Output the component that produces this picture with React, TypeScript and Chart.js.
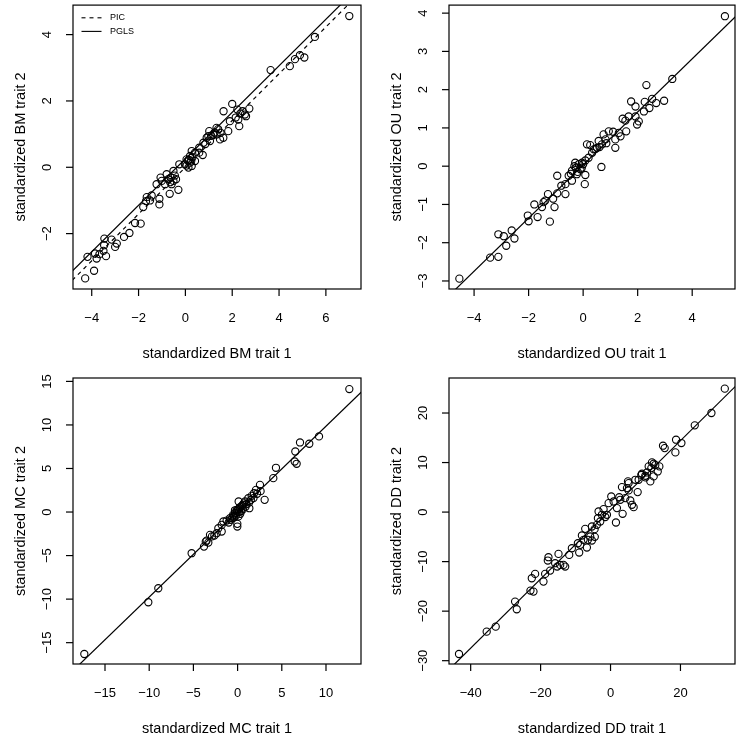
import { useEffect, useRef } from 'react';
import { Chart, registerables } from 'chart.js';

Chart.register(...registerables);

const FONT = '"Liberation Sans", Arial, Helvetica, sans-serif';

// ---- data ----
const bmPoints: [number, number][] = [
  [7.0, 4.56], [5.53, 3.93], [3.64, 2.93], [4.46, 3.05], [4.68, 3.26], [4.89, 3.38], [5.08, 3.31],
  [2.0, 1.91], [1.63, 1.69], [2.22, 1.74], [2.44, 1.69], [2.73, 1.77], [2.54, 1.59], [2.26, 1.44],
  [2.3, 1.24], [1.9, 1.39], [2.59, 1.54], [2.35, 1.62], [1.33, 1.19], [1.5, 1.04], [1.83, 1.09],
  [1.19, 0.99], [1.02, 1.09], [1.48, 0.84], [1.62, 0.89], [0.91, 0.89], [0.77, 0.74], [1.33, 0.99],
  [0.98, 0.94], [1.05, 0.79], [0.59, 0.59], [0.74, 0.37], [0.41, 0.44], [0.2, 0.34], [0.27, 0.49],
  [0.05, 0.24], [0.2, 0.14], [0.13, -0.01], [0.27, 0.04], [-0.02, 0.09], [0.41, 0.19], [0.59, 0.44],
  [-0.26, 0.09], [-0.4, -0.36], [-0.3, -0.68], [-0.51, -0.11], [-0.63, -0.31], [-0.73, -0.36],
  [-0.59, -0.51], [-0.67, -0.8], [-0.87, -0.51], [-1.01, -0.41], [-1.06, -0.31], [-1.23, -0.51],
  [-0.8, -0.21], [-0.51, -0.41], [-1.11, -0.95], [-1.11, -1.12], [-1.44, -0.85], [-1.65, -0.9],
  [-1.51, -1.0], [-1.68, -1.02], [-1.8, -1.2], [-2.15, -1.68], [-1.91, -1.7], [-2.39, -1.98],
  [-2.62, -2.1], [-3.0, -2.4], [-2.93, -2.3], [-3.15, -2.18], [-3.46, -2.15], [-3.47, -2.35],
  [-3.5, -2.52], [-3.39, -2.68], [-3.67, -2.62], [-3.79, -2.75], [-3.86, -2.6], [-4.18, -2.7],
  [-3.9, -3.12], [-4.28, -3.35], [0.1, 0.2], [0.15, 0.22], [0.3, 0.3], [0.05, 0.05], [0.25, 0.2],
  [1.25, 1.05], [1.4, 1.15], [1.1, 0.95], [-0.45, -0.25], [-0.65, -0.45], [2.15, 1.5], [0.85, 0.7],
];

const ouPoints: [number, number][] = [
  [5.2, 3.92], [3.27, 2.28], [2.32, 2.12], [2.97, 1.71], [2.68, 1.65], [2.53, 1.76], [2.43, 1.52],
  [2.23, 1.43], [2.26, 1.68], [1.76, 1.69], [1.92, 1.56], [1.92, 1.3], [2.04, 1.17], [1.98, 1.09],
  [1.67, 1.3], [1.55, 1.19], [1.45, 1.24], [1.58, 0.91], [1.31, 0.87], [1.37, 0.78], [1.18, 0.7],
  [1.18, 0.48], [0.94, 0.91], [0.75, 0.83], [0.82, 0.7], [0.69, 0.57], [0.57, 0.66], [0.51, 0.48],
  [0.39, 0.44], [0.26, 0.55], [0.14, 0.57], [0.33, 0.35], [0.67, -0.02], [0.08, 0.15], [0.2, 0.22],
  [-0.04, 0.09], [-0.16, 0.05], [-0.29, 0.09], [-0.26, -0.04], [-0.41, -0.12], [-0.23, -0.21],
  [-0.53, -0.25], [-0.41, -0.38], [-0.1, -0.08], [0.08, -0.23], [0.06, -0.47], [-0.65, -0.47],
  [-0.95, -0.25], [-0.8, -0.51], [-0.65, -0.73], [-0.95, -0.71], [-1.05, -1.07], [-1.29, -0.73],
  [-1.22, -1.45], [-1.39, -0.9], [-1.51, -1.07], [-1.45, -0.94], [-1.79, -1.0], [-1.67, -1.33],
  [-2.03, -1.29], [-2.0, -1.44], [-2.62, -1.68], [-2.52, -1.89], [-3.11, -1.78], [-2.91, -1.83],
  [-2.82, -2.08], [-3.41, -2.39], [-3.11, -2.37], [-4.54, -2.94], [-0.05, -0.04], [-0.32, 0.0],
  [-0.45, -0.2], [0.45, 0.45], [0.85, 0.6], [-0.2, -0.15], [0.6, 0.5], [1.1, 0.9], [-1.1, -0.85],
  [0.0, 0.05],
];

const mcPoints: [number, number][] = [
  [12.64, 14.12], [9.21, 8.68], [8.11, 7.84], [7.06, 7.99], [6.53, 6.95], [6.46, 5.8], [6.68, 5.54],
  [4.34, 5.08], [4.04, 3.89], [3.06, 1.4], [2.53, 3.12], [2.08, 2.55], [1.86, 2.16], [1.59, 1.86],
  [1.21, 1.59], [1.33, 0.44], [0.84, 1.21], [0.57, 0.82], [0.12, 1.21], [0.27, 0.56], [-0.11, 0.25],
  [-0.29, -0.13], [-0.48, -0.44], [-0.03, -1.36], [-0.03, -1.67], [-0.86, -0.71], [-1.24, -0.98],
  [-1.61, -1.09], [-1.8, -1.48], [-2.18, -1.86], [-2.37, -2.43], [-1.8, -2.24], [-2.63, -2.7],
  [-3.12, -2.62], [-3.5, -3.28], [-3.8, -3.97], [-3.31, -3.51], [-5.2, -4.73], [-8.97, -8.75],
  [-10.1, -10.36], [-17.34, -16.3], [0.2, 0.4], [0.5, 0.7], [-0.1, 0.1], [0.3, -0.2], [0.6, 0.3],
  [-0.5, -0.3], [0.1, -0.5], [0.9, 0.6], [1.0, 0.9], [-0.3, 0.2], [0.4, 0.1], [0.7, 1.0],
  [-0.6, -0.7], [-0.2, -0.4], [0.05, 0.3], [1.3, 1.1], [1.5, 1.4], [1.8, 1.6], [2.2, 2.1],
  [-1.0, -1.2], [-0.8, -0.9], [-0.4, -0.6], [0.15, 0.0], [-3.6, -3.4], [-2.9, -2.8], [2.6, 2.4],
];

const ddPoints: [number, number][] = [
  [32.68, 24.92], [28.86, 20.0], [24.09, 17.51], [18.74, 14.61], [20.27, 13.94], [18.55, 12.05],
  [15.01, 13.4], [15.49, 12.92], [13.96, 9.22], [12.34, 9.76], [10.91, 9.22], [11.86, 10.03],
  [11.67, 8.88], [9.95, 7.33], [9.0, 7.74], [10.43, 8.0], [11.38, 6.19], [12.34, 7.2], [8.04, 6.52],
  [7.09, 6.52], [7.76, 4.03], [4.99, 6.19], [4.7, 4.84], [3.27, 5.04], [5.18, 4.37], [6.13, 1.47],
  [6.61, 1.0], [4.22, 2.82], [5.65, 2.34], [2.79, 2.48], [1.83, 0.8], [3.46, -0.35], [1.55, -2.1],
  [0.21, 3.15], [0.88, 2.14], [-0.55, 1.8], [-1.03, -0.55], [-1.99, 0.59], [-2.46, -0.55],
  [-3.42, 0.12], [-3.61, -1.23], [-2.94, -1.9], [-3.9, -2.57], [-4.56, -3.45], [-5.33, -2.91],
  [-7.24, -3.38], [-8.19, -4.73], [-5.81, -4.93], [-6.47, -5.61], [-5.33, -5.74], [-6.76, -7.16],
  [-7.72, -5.61], [-8.67, -6.62], [-8.96, -8.17], [-11.06, -7.29], [-11.82, -8.64], [-12.97, -11.0],
  [-14.88, -8.44], [-14.4, -10.67], [-15.84, -10.32], [-17.75, -9.11], [-17.94, -9.78],
  [-17.27, -11.81], [-18.7, -12.48], [-19.18, -14.03], [-21.57, -12.48], [-22.52, -13.36],
  [-22.9, -15.85], [-22.04, -16.05], [-27.3, -18.07], [-26.82, -19.62], [-32.84, -23.13],
  [-35.42, -24.14], [-43.34, -28.65], [5.18, 5.85], [8.8, 7.5], [-13.45, -10.66], [-15.26, -11.0],
  [-9.34, -6.28], [12.8, 9.5], [13.5, 8.2], [10.0, 7.0], [-1.5, -1.0], [2.5, 3.0], [-4.5, -5.0],
];

// fitted lines: [intercept, slope]
const bmPic: [number, number] = [0.0, 0.705];
const bmPgls: [number, number] = [0.256, 0.701];
const ouPgls: [number, number] = [0.03, 0.694];
const mcPgls: [number, number] = [0.05, 0.981];
const ddPgls: [number, number] = [0.45, 0.698];

// axis limits and ticks
const bmXLim = [-4.8, 7.5];
const bmYLim = [-3.67, 4.89];
const bmXTicks = [-4, -2, 0, 2, 4, 6];
const bmYTicks = [-2, 0, 2, 4];

const ouXLim = [-4.92, 5.57];
const ouYLim = [-3.21, 4.21];
const ouXTicks = [-4, -2, 0, 2, 4];
const ouYTicks = [-3, -2, -1, 0, 1, 2, 3, 4];

const mcXLim = [-18.62, 13.96];
const mcYLim = [-17.45, 15.39];
const mcXTicks = [-15, -10, -5, 0, 5, 10];
const mcYTicks = [-15, -10, -5, 0, 5, 10, 15];

const ddXLim = [-46.2, 35.6];
const ddYLim = [-30.67, 27.07];
const ddXTicks = [-40, -20, 0, 20];
const ddYTicks = [-30, -20, -10, 0, 10, 20];

const fmt = (v: number) => (v < 0 ? '\u2212' + Math.abs(v) : String(v));

// draws the R-style box, ticks, labels, titles and legend
const rFrame = {
  id: 'rFrame',
  afterDatasetsDraw(chart: any, _args: any, opts: any) {
    const { ctx, chartArea: a, scales } = chart;
    const sx = scales.x;
    const sy = scales.y;
    ctx.save();
    ctx.strokeStyle = '#000';
    ctx.fillStyle = '#000';
    ctx.lineWidth = 1.2;
    ctx.setLineDash([]);
    ctx.strokeRect(a.left, a.top, a.right - a.left, a.bottom - a.top);

    ctx.font = `13px ${FONT}`;
    ctx.textAlign = 'center';
    ctx.textBaseline = 'middle';
    opts.xTicks.forEach((v: number) => {
      const px = sx.getPixelForValue(v);
      ctx.beginPath();
      ctx.moveTo(px, a.bottom);
      ctx.lineTo(px, a.bottom + 7);
      ctx.stroke();
      ctx.fillText(fmt(v), px, a.bottom + 29);
    });
    opts.yTicks.forEach((v: number) => {
      const py = sy.getPixelForValue(v);
      ctx.beginPath();
      ctx.moveTo(a.left, py);
      ctx.lineTo(a.left - 7, py);
      ctx.stroke();
      ctx.save();
      ctx.translate(a.left - 26, py);
      ctx.rotate(-Math.PI / 2);
      ctx.fillText(fmt(v), 0, 0);
      ctx.restore();
    });

    ctx.font = `14.5px ${FONT}`;
    ctx.fillText(opts.xTitle, (a.left + a.right) / 2, a.bottom + 65);
    ctx.save();
    ctx.translate(a.left - opts.yTitleOff, (a.top + a.bottom) / 2);
    ctx.rotate(-Math.PI / 2);
    ctx.fillText(opts.yTitle, 0, 0);
    ctx.restore();

    if (opts.legend) {
      ctx.lineWidth = 1.1;
      ctx.font = `9px ${FONT}`;
      ctx.textAlign = 'left';
      opts.legend.forEach((item: { label: string; dash: number[] }, i: number) => {
        const ly = a.top + 12.7 + i * 13.6;
        ctx.setLineDash(item.dash);
        ctx.beginPath();
        ctx.moveTo(a.left + 8.5, ly);
        ctx.lineTo(a.left + 28.5, ly);
        ctx.stroke();
        ctx.setLineDash([]);
        ctx.fillText(item.label, a.left + 37, ly);
      });
    }
    ctx.restore();
  },
};

type PanelProps = {
  points: [number, number][];
  lines: { fit: [number, number]; dash: number[] }[];
  xLim: number[];
  yLim: number[];
  xTicks: number[];
  yTicks: number[];
  xTitle: string;
  yTitle: string;
  yTitleOff: number;
  legend?: { label: string; dash: number[] }[];
  box: { left: number; top: number; width: number; height: number };
  pad: { left: number; top: number; right: number; bottom: number };
};

function Panel(p: PanelProps) {
  const ref = useRef<HTMLCanvasElement>(null);

  useEffect(() => {
    if (!ref.current) return;
    const lineSets = p.lines.map((l) => ({
      type: 'line' as const,
      data: [p.xLim[0] - 1, p.xLim[1] + 1].map((x) => ({ x, y: l.fit[0] + l.fit[1] * x })),
      borderColor: '#000',
      borderWidth: 1.2,
      borderDash: l.dash,
      pointRadius: 0,
      showLine: true,
      fill: false,
    }));
    const chart = new Chart(ref.current, {
      type: 'scatter',
      data: {
        datasets: [
          {
            data: p.points.map(([x, y]) => ({ x, y })),
            pointStyle: 'circle',
            pointRadius: 3.6,
            pointBorderWidth: 1.1,
            pointBorderColor: '#000',
            pointBackgroundColor: 'rgba(0,0,0,0)',
          },
          ...lineSets,
        ] as any,
      },
      options: {
        responsive: false,
        animation: false,
        events: [],
        layout: { padding: p.pad },
        plugins: {
          legend: { display: false },
          tooltip: { enabled: false },
          rFrame: {
            xTicks: p.xTicks,
            yTicks: p.yTicks,
            xTitle: p.xTitle,
            yTitle: p.yTitle,
            yTitleOff: p.yTitleOff,
            legend: p.legend,
          },
        } as any,
        scales: {
          x: { type: 'linear', display: false, min: p.xLim[0], max: p.xLim[1] },
          y: { type: 'linear', display: false, min: p.yLim[0], max: p.yLim[1] },
        },
      },
      plugins: [rFrame],
    });
    return () => chart.destroy();
  }, []);

  return (
    <canvas
      ref={ref}
      width={p.box.width}
      height={p.box.height}
      style={{
        position: 'absolute',
        left: p.box.left,
        top: p.box.top,
        width: p.box.width,
        height: p.box.height,
      }}
    />
  );
}

export default function App() {
  return (
    <div
      style={{
        position: 'absolute',
        left: 0,
        top: 0,
        width: 743,
        height: 737,
        background: '#fff',
        fontFamily: FONT,
      }}
    >
      <Panel
        points={bmPoints}
        lines={[
          { fit: bmPic, dash: [4, 4] },
          { fit: bmPgls, dash: [] },
        ]}
        xLim={bmXLim}
        yLim={bmYLim}
        xTicks={bmXTicks}
        yTicks={bmYTicks}
        xTitle="standardized BM trait 1"
        yTitle="standardized BM trait 2"
        yTitleOff={52}
        legend={[
          { label: 'PIC', dash: [4, 4] },
          { label: 'PGLS', dash: [] },
        ]}
        box={{ left: 0, top: 0, width: 372, height: 368 }}
        pad={{ left: 73, top: 3, right: 11, bottom: 79 }}
      />
      <Panel
        points={ouPoints}
        lines={[{ fit: ouPgls, dash: [] }]}
        xLim={ouXLim}
        yLim={ouYLim}
        xTicks={ouXTicks}
        yTicks={ouYTicks}
        xTitle="standardized OU trait 1"
        yTitle="standardized OU trait 2"
        yTitleOff={52}
        box={{ left: 372, top: 0, width: 371, height: 368 }}
        pad={{ left: 77, top: 3, right: 8, bottom: 79 }}
      />
      <Panel
        points={mcPoints}
        lines={[{ fit: mcPgls, dash: [] }]}
        xLim={mcXLim}
        yLim={mcYLim}
        xTicks={mcXTicks}
        yTicks={mcYTicks}
        xTitle="standardized MC trait 1"
        yTitle="standardized MC trait 2"
        yTitleOff={52}
        box={{ left: 0, top: 368, width: 372, height: 369 }}
        pad={{ left: 73, top: 10, right: 11, bottom: 73 }}
      />
      <Panel
        points={ddPoints}
        lines={[{ fit: ddPgls, dash: [] }]}
        xLim={ddXLim}
        yLim={ddYLim}
        xTicks={ddXTicks}
        yTicks={ddYTicks}
        xTitle="standardized DD trait 1"
        yTitle="standardized DD trait 2"
        yTitleOff={52}
        box={{ left: 372, top: 368, width: 371, height: 369 }}
        pad={{ left: 77, top: 10, right: 8, bottom: 73 }}
      />
    </div>
  );
}
